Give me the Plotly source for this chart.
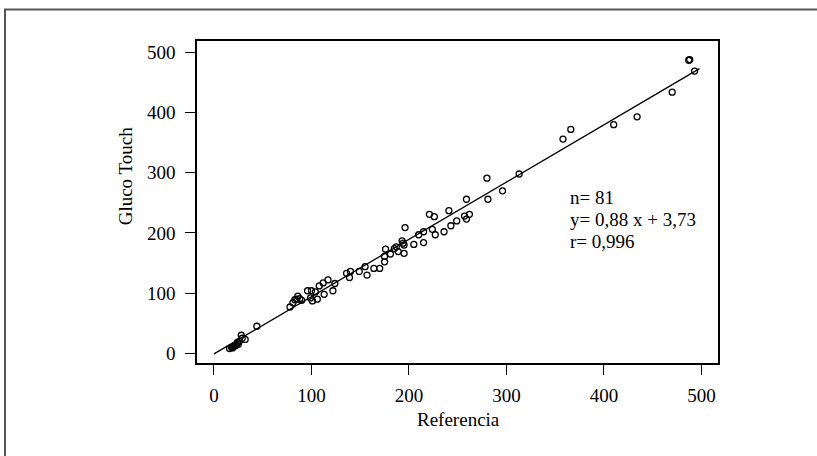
import plotly.graph_objects as go

# Data (Referencia vs Gluco Touch)
referencia = [16, 18, 20, 21, 23, 25, 22, 19, 24, 26, 28, 29, 32, 44,
              78, 81, 83, 85, 86, 88, 90, 96, 99, 100, 104, 101, 106, 108,
              112, 117, 113, 122, 124, 136, 140, 139, 149, 155, 157, 164,
              170, 176, 175, 175, 181, 185, 187, 189, 195, 194, 193, 195,
              196, 205, 210, 215, 215, 221, 224, 226, 227, 236, 241, 243,
              249, 257, 259, 262, 259, 281, 280, 296, 313, 358, 366, 410,
              434, 470, 487, 488, 493]
gluco_touch = [8, 10, 11, 12, 14, 15, 13, 9, 18, 20, 30, 25, 23, 45,
               77, 84, 89, 90, 95, 91, 88, 104, 92, 104, 102, 87, 90, 112,
               117, 122, 98, 104, 116, 133, 136, 126, 136, 144, 130, 141,
               141, 173, 161, 152, 165, 174, 177, 169, 166, 183, 187, 180,
               209, 181, 197, 202, 184, 231, 206, 227, 197, 202, 237, 212,
               220, 228, 223, 231, 256, 256, 291, 270, 298, 356, 372, 380,
               393, 434, 487, 488, 469]

# Drawn regression line (as plotted in the reference)
fit_slope = 0.952
fit_intercept = -1.0
fit_x = [0, 498]
fit_y = [fit_slope * v + fit_intercept for v in fit_x]

stats_text = ["n= 81", "y= 0,88 x + 3,73", "r= 0,996"]
tick_vals = [0, 100, 200, 300, 400, 500]

FONT = "Liberation Serif"

fig = go.Figure()
fig.add_trace(go.Scatter(
    x=fit_x, y=fit_y, mode="lines",
    line=dict(color="black", width=1.3), showlegend=False, hoverinfo="skip"))
fig.add_trace(go.Scatter(
    x=referencia, y=gluco_touch, mode="markers",
    marker=dict(symbol="circle-open", size=6, color="black",
                line=dict(color="black", width=1.3)),
    showlegend=False))

axis_common = dict(
    showgrid=False, zeroline=False, showline=True, mirror=True,
    linecolor="black", linewidth=1.5, ticks="outside", ticklen=10,
    tickwidth=1.3, tickcolor="black", tickvals=tick_vals,
    tickfont=dict(family=FONT, size=19, color="black"))

fig.update_xaxes(range=[-17.4, 517], ticklabelstandoff=4, **axis_common)
fig.update_yaxes(range=[-16.1, 519], ticklabelstandoff=6, **axis_common)

# Axis titles
fig.add_annotation(text="Referencia", xref="paper", yref="paper",
                   x=0.501, y=-0.177, showarrow=False,
                   xanchor="center", yanchor="middle",
                   font=dict(family=FONT, size=19, color="black"))
fig.add_annotation(text="Gluco Touch", xref="paper", yref="paper",
                   x=-0.138, y=0.58, showarrow=False, textangle=-90,
                   xanchor="center", yanchor="middle",
                   font=dict(family=FONT, size=19, color="black"))

# Stats text
for i, t in enumerate(stats_text):
    fig.add_annotation(text=t, xref="paper", yref="paper",
                       x=0.712, y=0.515 - i * 0.0683, showarrow=False,
                       xanchor="left", yanchor="middle", align="left",
                       font=dict(family=FONT, size=19, color="black"))

# Outer frame
fig.add_shape(type="rect", xref="paper", yref="paper",
              x0=-0.3685, y0=-0.32, x1=1.2, y1=1.098,
              line=dict(color="#555555", width=2), layer="below")

fig.update_layout(
    width=817, height=456,
    margin=dict(l=197, r=99, t=41, b=93),
    paper_bgcolor="white", plot_bgcolor="white",
    font=dict(family=FONT, color="black"))

fig.write_html("out.html",
               config={"displayModeBar": False},
               post_script="document.body.style.margin='0px';")
